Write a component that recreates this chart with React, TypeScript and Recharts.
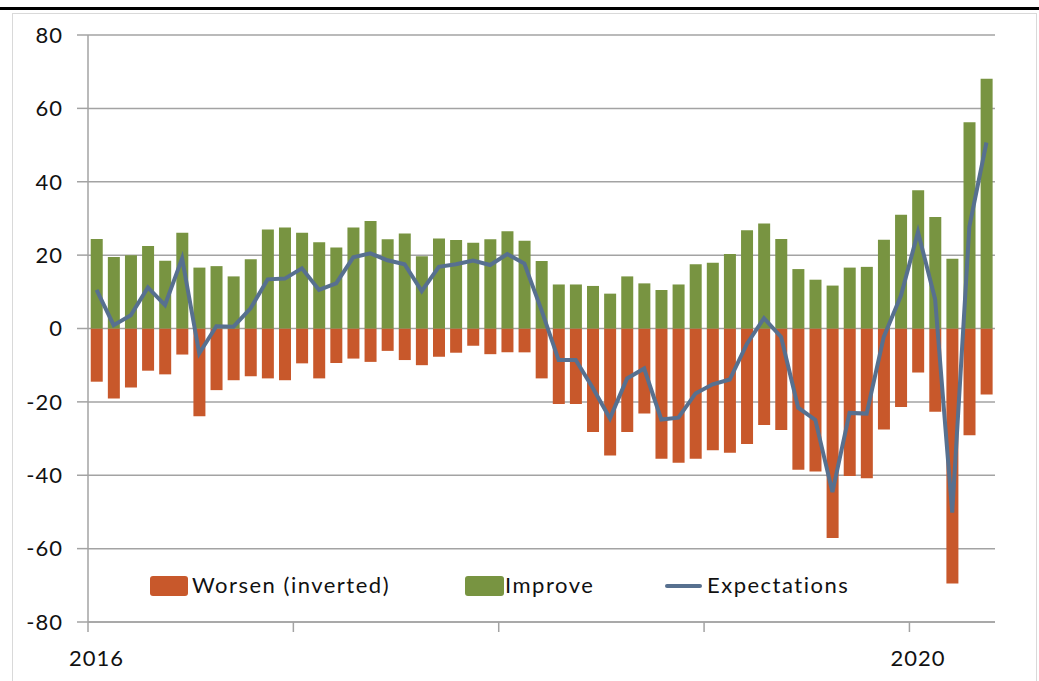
import React from 'react';
import { ComposedChart, Bar, Line, XAxis, YAxis, CartesianGrid, Legend } from 'recharts';

// monthly, Jan 2016 .. May 2020
const months = Array.from({ length: 53 }, (_, i) => `${2016 + Math.floor(i / 12)}-${String((i % 12) + 1).padStart(2, '0')}`);

const improve = [
  24.4, 19.5, 20, 22.5, 18.5, 26.1, 16.6, 17, 14.2, 18.9, 27, 27.5, 26.1,
  23.5, 22.1, 27.5, 29.3, 24.3, 25.9, 19.7, 24.5, 24.1, 23.4, 24.3, 26.5, 23.9,
  18.4, 12, 12, 11.6, 9.5, 14.2, 12.3, 10.5, 12, 17.5, 17.9, 20.3,
  26.8, 28.6, 24.4, 16.2, 13.3, 11.7, 16.6, 16.8, 24.2, 31, 37.7, 30.4, 19, 56.2, 68.1,
];

const worsen = [
  -14.5, -19.1, -16.1, -11.5, -12.5, -7.1, -23.9, -16.8, -14.1, -13, -13.6, -14.1, -9.5,
  -13.6, -9.4, -8.2, -9.1, -6.1, -8.6, -10, -7.7, -6.6, -4.7, -7, -6.5, -6.5,
  -13.6, -20.6, -20.6, -28.2, -34.6, -28.2, -23.2, -35.5, -36.6, -35.5, -33.2, -33.9,
  -31.5, -26.3, -27.7, -38.5, -39, -57.1, -40.2, -40.8, -27.5, -21.4, -12, -22.7, -69.5, -29.1, -18,
];

const expectations = [
  10.5, 0.9, 3.6, 11.2, 6.4, 19.1, -6.8, 0.6, 0.5, 5.5, 13.4, 13.6, 16.4,
  10.5, 12.3, 19.4, 20.5, 18.6, 17.5, 10.2, 16.8, 17.5, 18.5, 17.3, 20.3, 17.7,
  5, -8.6, -8.6, -16.2, -24.5, -13.6, -10.9, -24.8, -24.3, -17.7, -15.2, -13.9,
  -4.2, 2.8, -2.3, -21.6, -24.9, -44.6, -23, -23.2, -2.3, 8.9, 26.3, 8, -50.2, 27.7, 50.7,
];

const yTicks = [-80, -60, -40, -20, 0, 20, 40, 60, 80];
const yearStarts = [0, 12, 24, 36, 48];
const yearLabels = ['2016', '', '', '', '2020'];
const seriesNames = ['Worsen (inverted)', 'Improve', 'Expectations'];

const data = months.map((m, i) => ({
  month: m,
  worsen: worsen[i],
  improve: improve[i],
  expectations: expectations[i],
}));

const W = 1039;
const H = 681;
const MARGIN = { top: 35, right: 44, left: 28, bottom: 19 };
const Y_AXIS_W = 60;
const PLOT_W = W - MARGIN.left - MARGIN.right - Y_AXIS_W;
const BAND = PLOT_W / months.length;

const ORANGE = '#c8582b';
const GREEN = '#789441';
const SLATE = '#57708f';
const GRID = '#a3a3a3';
const FONT = "Lato, 'Open Sans', sans-serif";

function MonthTick(props: any) {
  const { x, y } = props;
  const idx = props.index ?? props.payload?.index;
  const k = yearStarts.indexOf(idx);
  if (k < 0) return <g />;
  const edge = x - BAND / 2;
  return (
    <g>
      <line x1={edge} y1={y} x2={edge} y2={y + 10} stroke={GRID} strokeWidth={1.5} />
      {yearLabels[k] && (
        <text x={x} y={y + 44} textAnchor="middle" fontSize={22} fill="#111" fontFamily={FONT} letterSpacing={1}>
          {yearLabels[k]}
        </text>
      )}
    </g>
  );
}

function ChartLegend() {
  const txt: React.CSSProperties = {
    position: 'absolute', top: -2, fontSize: 22, fontFamily: FONT, color: '#111',
    letterSpacing: 1.5, whiteSpace: 'nowrap', lineHeight: '26px',
  };
  return (
    <div style={{ position: 'relative', width: 720, height: 24 }}>
      <div style={{ position: 'absolute', left: 0, top: 2, width: 38, height: 20, background: ORANGE, borderRadius: 3 }} />
      <span style={{ ...txt, left: 42 }}>{seriesNames[0]}</span>
      <div style={{ position: 'absolute', left: 315, top: 2, width: 39, height: 20, background: GREEN, borderRadius: 3 }} />
      <span style={{ ...txt, left: 355 }}>{seriesNames[1]}</span>
      <div style={{ position: 'absolute', left: 515, top: 10, width: 37, height: 4, background: SLATE, borderRadius: 2 }} />
      <span style={{ ...txt, left: 557 }}>{seriesNames[2]}</span>
    </div>
  );
}

export default function App() {
  return (
    <div style={{ position: 'absolute', left: 0, top: 0, width: W, height: H, background: '#fff', overflow: 'hidden' }}>
      <div style={{ position: 'absolute', left: 0, top: 7, width: W, height: 3, background: '#000' }} />
      <div style={{ position: 'absolute', left: 12, top: 13, width: 1023, height: 700, border: '1px solid #d9d9d9' }} />
      <div style={{ position: 'absolute', left: 0, top: 0 }}>
        <ComposedChart width={W} height={H} data={data} margin={MARGIN} stackOffset="sign" barCategoryGap="16%">
          <CartesianGrid vertical={false} stroke={GRID} strokeWidth={1.5} />
          <XAxis
            dataKey="month"
            interval={0}
            height={40}
            tickSize={0}
            tickMargin={0}
            tickLine={false}
            axisLine={{ stroke: GRID, strokeWidth: 1.5 }}
            tick={<MonthTick />}
          />
          <YAxis
            width={Y_AXIS_W}
            domain={[-80, 80]}
            ticks={yTicks}
            interval={0}
            tickSize={11}
            tickMargin={14}
            axisLine={{ stroke: GRID, strokeWidth: 1.5 }}
            tickLine={{ stroke: GRID, strokeWidth: 1.5 }}
            tick={{ fill: '#111', fontSize: 22, fontFamily: FONT, letterSpacing: 1 }}
          />
          <Legend
            layout="horizontal"
            verticalAlign="middle"
            align="center"
            content={<ChartLegend />}
            wrapperStyle={{ left: 150, top: 574, width: 720, height: 24 }}
          />
          <Bar dataKey="worsen" name={seriesNames[0]} stackId="s" fill={ORANGE} isAnimationActive={false} />
          <Bar dataKey="improve" name={seriesNames[1]} stackId="s" fill={GREEN} isAnimationActive={false} />
          <Line
            type="linear"
            dataKey="expectations"
            name={seriesNames[2]}
            stroke={SLATE}
            strokeWidth={4}
            dot={false}
            isAnimationActive={false}
          />
        </ComposedChart>
      </div>
    </div>
  );
}
